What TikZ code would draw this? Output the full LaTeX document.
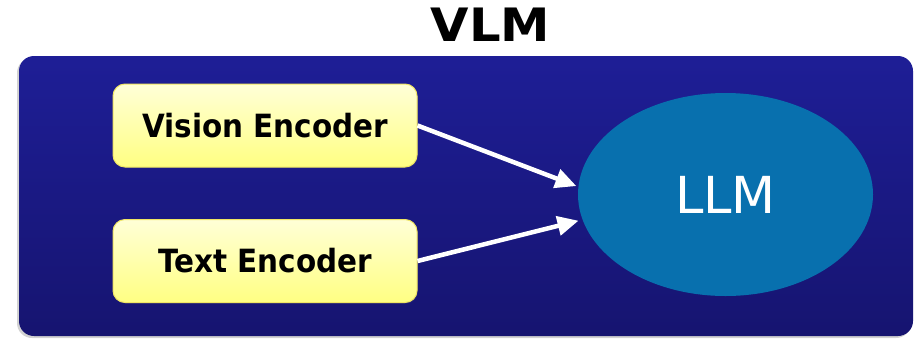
\documentclass[tikz,border=0pt]{standalone}
\usepackage{fontspec}
\setmainfont{DejaVu Sans}
\usetikzlibrary{shapes.geometric,arrows.meta,shadows}
\definecolor{bgtop}{RGB}{30,30,150}
\definecolor{bgbot}{RGB}{22,20,112}
\definecolor{llmblue}{RGB}{8,112,174}
\definecolor{boxtop}{RGB}{255,255,215}
\definecolor{boxbot}{RGB}{255,255,130}
\definecolor{boxline}{RGB}{240,230,100}
\tikzset{
  panel/.style={rounded corners=15pt, top color=bgtop, bottom color=bgbot, draw=none,
    drop shadow={shadow xshift=-2pt, shadow yshift=-2pt, opacity=0.35}},
  encbox/.style={rectangle, rounded corners=12pt, top color=boxtop, bottom color=boxbot,
    draw=boxline, line width=1pt, minimum width=304pt, minimum height=83pt, inner sep=0pt,
    font=\fontsize{32}{36}\selectfont\bfseries, text=black,
    drop shadow={shadow xshift=1pt, shadow yshift=-1pt, opacity=0.15}},
  llmnode/.style={ellipse, fill=llmblue, draw=none, minimum width=295pt, minimum height=203pt,
    inner sep=0pt, text=white, font=\fontsize{51}{56}\selectfont},
  titlenode/.style={font=\fontsize{46}{52}\selectfont\bfseries, text=black, inner sep=0pt},
  flow/.style={draw=white, line width=4.5pt, -{Triangle[length=21pt,width=19pt]}}
}
\begin{document}
\begin{tikzpicture}[x=1pt,y=-1pt]
\useasboundingbox (0,0) rectangle (915,338);
\fill[white] (0,0) rectangle (915,338);
\node[panel, minimum width=894pt, minimum height=280pt, inner sep=0pt] (panel) at (466,196) {};
\node[titlenode] (title) at (490.5,25) {\scalebox{1.08}[1]{VLM}};
\node[encbox] (vis) at (265,125.5) {\scalebox{0.92}[1]{Vision Encoder}};
\node[encbox] (txt) at (265,261) {\scalebox{0.92}[1]{Text Encoder}};
\node[llmnode] (llm) at (725.5,194.5) {LLM};
\draw[flow, shorten >=2pt] (vis.east) -- (llm.177.5);
\draw[flow, shorten >=4pt] (txt.east) -- (llm.190);
\end{tikzpicture}
\end{document}
